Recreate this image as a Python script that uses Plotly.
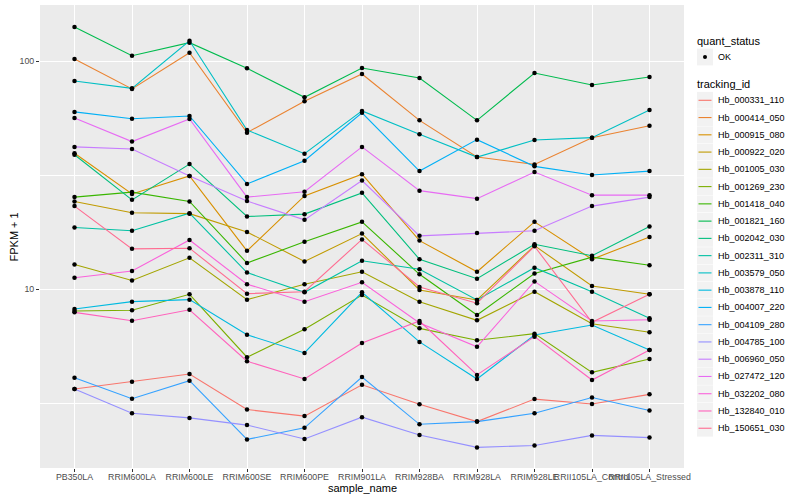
import plotly.graph_objects as go

samples = ["PB350LA", "RRIM600LA", "RRIM600LE", "RRIM600SE", "RRIM600PE", "RRIM901LA",
           "RRIM928BA", "RRIM928LA", "RRIM928LE", "RRII105LA_Control", "RRII105LA_Stressed"]

tracking_ids = ["Hb_000331_110", "Hb_000414_050", "Hb_000915_080", "Hb_000922_020", "Hb_001005_030",
                "Hb_001269_230", "Hb_001418_040", "Hb_001821_160", "Hb_002042_030", "Hb_002311_310",
                "Hb_003579_050", "Hb_003878_110", "Hb_004007_220", "Hb_004109_280", "Hb_004785_100",
                "Hb_006960_050", "Hb_027472_120", "Hb_032202_080", "Hb_132840_010", "Hb_150651_030"]

colors = ["#F8766D", "#EA8331", "#D89000", "#C09B00", "#A3A500", "#7CAE00", "#39B600", "#00BB4E",
          "#00BF7D", "#00C1A3", "#00BFC4", "#00BAE0", "#00B0F6", "#35A2FF", "#9590FF", "#C77CFF",
          "#E76BF3", "#FA62DB", "#FF62BC", "#FF6C91"]

# FPKM + 1 values per tracking id, in the order of `samples`
hb_000331_110 = [3.64, 3.92, 4.24, 2.96, 2.77, 3.80, 3.12, 2.62, 3.29, 3.13, 3.45]
hb_000414_050 = [102, 75.4, 108.7, 48.5, 66.6, 87.7, 54.9, 37.9, 35.2, 46.1, 52.0]
hb_000915_080 = [39.4, 26.1, 31.3, 14.7, 25.6, 31.9, 16.3, 11.9, 19.7, 13.5, 16.9]
hb_000922_020 = [24.2, 21.6, 21.4, 17.8, 13.2, 17.5, 9.90, 8.95, 15.5, 10.3, 9.48]
hb_001005_030 = [12.8, 10.9, 13.7, 8.98, 10.5, 11.9, 8.80, 7.29, 9.73, 7.04, 6.46]
hb_001269_230 = [8.01, 8.07, 9.48, 5.02, 6.66, 9.41, 6.72, 5.96, 6.37, 4.31, 4.93]
hb_001418_040 = [25.3, 26.6, 24.2, 13.0, 16.1, 19.7, 11.6, 7.69, 11.7, 13.8, 12.7]
hb_001821_160 = [141, 105.5, 120.3, 92.9, 69.3, 93.2, 84.2, 54.9, 88.6, 78.5, 85.1]
hb_002042_030 = [38.8, 24.6, 35.3, 20.8, 21.3, 26.4, 13.5, 11.1, 15.7, 14.0, 18.8]
hb_002311_310 = [18.6, 18.0, 21.5, 11.8, 9.67, 13.3, 12.2, 8.95, 12.4, 9.73, 7.44]
hb_003579_050 = [81.7, 75.9, 122.7, 49.8, 39.2, 60.4, 47.7, 37.9, 45.0, 46.1, 61.0]
hb_003878_110 = [8.17, 8.80, 8.98, 6.30, 5.24, 9.67, 5.86, 4.03, 6.28, 6.95, 5.40]
hb_004007_220 = [59.8, 55.8, 57.4, 28.9, 36.5, 59.3, 32.9, 45.2, 34.5, 31.6, 32.9]
hb_004109_280 = [4.08, 3.30, 3.96, 2.19, 2.46, 4.11, 2.55, 2.62, 2.85, 3.34, 2.93]
hb_004785_100 = [3.64, 2.85, 2.72, 2.53, 2.20, 2.74, 2.29, 2.02, 2.06, 2.28, 2.23]
hb_006960_050 = [42.0, 41.1, 31.3, 24.3, 20.1, 29.9, 17.1, 17.6, 18.0, 23.1, 25.3]
hb_027472_120 = [56.2, 44.3, 55.7, 25.3, 26.7, 42.0, 27.0, 24.9, 32.6, 25.8, 25.8]
hb_032202_080 = [11.2, 12.0, 16.4, 10.5, 8.80, 10.7, 7.10, 5.58, 10.8, 7.24, 7.33]
hb_132840_010 = [7.90, 7.26, 8.11, 4.82, 4.03, 5.80, 7.24, 4.20, 6.18, 3.99, 5.40]
hb_150651_030 = [23.1, 15.0, 15.1, 9.54, 9.73, 16.5, 10.2, 8.66, 15.4, 7.14, 9.48]

series = [hb_000331_110, hb_000414_050, hb_000915_080, hb_000922_020, hb_001005_030,
          hb_001269_230, hb_001418_040, hb_001821_160, hb_002042_030, hb_002311_310,
          hb_003579_050, hb_003878_110, hb_004007_220, hb_004109_280, hb_004785_100,
          hb_006960_050, hb_027472_120, hb_032202_080, hb_132840_010, hb_150651_030]

quant_status = "OK"
x_title = "sample_name"
y_title = "FPKM + 1"

FONT = "Liberation Sans, Arial, sans-serif"

# ---- layout geometry (pixels) ----
W, H = 800, 500
PL, PR, PT, PB = 40, 684, 5, 468   # panel edges


def px(xp):
    return (xp - PL) / (PR - PL)


def py(yp):
    return (PB - yp) / (PB - PT)


fig = go.Figure()

for tid, vals, col in zip(tracking_ids, series, colors):
    fig.add_trace(go.Scatter(
        x=samples, y=vals, mode="lines", name=tid,
        line=dict(color=col, width=1.1),
        showlegend=False, hoverinfo="skip",
    ))

all_x = [s for vals in series for s in samples]
all_y = [v for vals in series for v in vals]
fig.add_trace(go.Scatter(
    x=all_x, y=all_y, mode="markers", name=quant_status,
    marker=dict(color="black", size=4.5, symbol="circle"),
    showlegend=False,
))

# ---- ggplot-style legend + axis titles drawn with shapes and annotations ----
shapes = []
annotations = []
KEY_L, KEY_R = 697, 713
TEXT_X = 717


def add_text(text, x, y, size, color="black", xanchor="left", angle=0):
    annotations.append(dict(
        text=text, x=px(x), y=py(y), xref="paper", yref="paper",
        xanchor=xanchor, yanchor="middle", showarrow=False, borderpad=0,
        textangle=angle,
        font=dict(size=size, color=color, family=FONT),
    ))


def add_key(yc):
    shapes.append(dict(type="rect", xref="paper", yref="paper",
                       x0=px(KEY_L), x1=px(KEY_R), y0=py(yc - 8.4), y1=py(yc + 8.4),
                       fillcolor="#F2F2F2", line=dict(width=0), layer="above"))


add_text("quant_status", 695.5, 40.7, 11)
add_key(57)
shapes.append(dict(type="circle", xref="paper", yref="paper",
                   x0=px(703), x1=px(707), y0=py(55), y1=py(59),
                   fillcolor="black", line=dict(width=0), layer="above"))
add_text(quant_status, TEXT_X, 57, 9)

add_text("tracking_id", 695.5, 84.3, 11)
STEP = 17.26
for i, (tid, col) in enumerate(zip(tracking_ids, colors)):
    yc = 100.3 + STEP * i
    add_key(yc)
    shapes.append(dict(type="line", xref="paper", yref="paper",
                       x0=px(698.5), x1=px(711.5), y0=py(yc), y1=py(yc),
                       line=dict(color=col, width=1.1), layer="above"))
    add_text(tid, TEXT_X, yc, 9)

add_text(x_title, (PL + PR) / 2, 488, 11, xanchor="center")
add_text(y_title, 13, (PT + PB) / 2, 11, xanchor="center", angle=-90)

fig.update_layout(
    width=W, height=H,
    margin=dict(l=PL, r=W - PR, t=PT, b=H - PB, autoexpand=False),
    paper_bgcolor="white",
    plot_bgcolor="#EBEBEB",
    font=dict(family=FONT, size=9, color="#4D4D4D"),
    showlegend=False,
    hovermode=False,
    shapes=shapes,
    annotations=annotations,
    xaxis=dict(
        type="category",
        categoryorder="array", categoryarray=samples,
        range=[-0.6, 10.6],
        automargin=False,
        showgrid=True, gridcolor="white", gridwidth=1.1,
        ticks="outside", ticklen=3, tickcolor="#333333", tickwidth=1,
        tickangle=0,
        ticklabelstandoff=-3,
        tickfont=dict(size=8.8, color="#4D4D4D", family=FONT),
        zeroline=False, showline=False,
    ),
    yaxis=dict(
        type="log",
        range=[0.2149, 2.2456],
        automargin=False,
        tickvals=[10, 100], ticktext=["10", "100"],
        showgrid=True, gridcolor="white", gridwidth=1.1,
        minor=dict(tickvals=[3.1623, 31.623], showgrid=True, gridcolor="white", gridwidth=0.55, ticklen=0),
        ticks="outside", ticklen=3, tickcolor="#333333", tickwidth=1,
        tickfont=dict(size=8.8, color="#4D4D4D", family=FONT),
        zeroline=False, showline=False,
    ),
)

fig.write_html("out.html", config={"displayModeBar": False},
               post_script="document.body.style.margin='0px';")
